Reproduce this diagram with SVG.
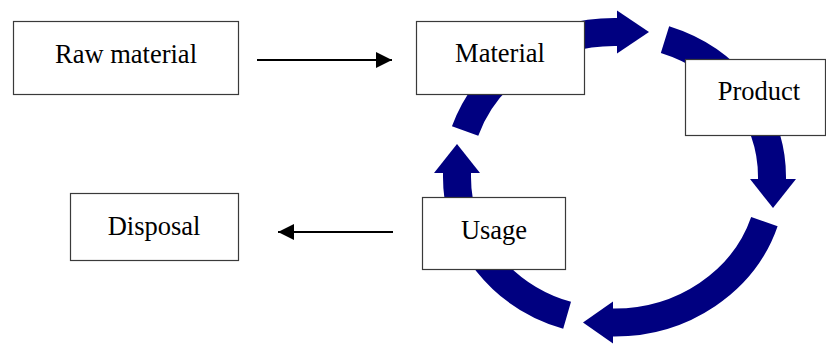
<svg xmlns="http://www.w3.org/2000/svg" width="826" height="345" viewBox="0 0 826 345">
  <style>
    .box { fill: #ffffff; stroke: #3a3a3a; stroke-width: 1.2; }
    .lbl { font-family: "Liberation Serif", "Times New Roman", serif; font-size: 26.5px; fill: #000000; text-anchor: middle; }
    .ring { fill: none; stroke: #000080; stroke-width: 28; stroke-linecap: butt; }
    .ringhead { fill: #000080; stroke: none; }
    .conn { stroke: #000000; stroke-width: 2.2; fill: none; }
  </style>
  <defs>
    <marker id="ah" viewBox="0 0 16 16" refX="16" refY="8" markerWidth="16" markerHeight="16" markerUnits="userSpaceOnUse" orient="auto">
      <path d="M0,0 L16,8 L0,16 Z" fill="#000000"/>
    </marker>
  </defs>

  <g id="cycle">
    <path class="ring" d="M465.1,131 A157.5,145 0 0,1 614.5,32 L618,32"/>
    <polygon class="ringhead" points="617,10.5 649,32 617,53.5"/>
    <path class="ring" d="M665,39.7 A157.5,145 0 0,1 772,177 L772,179"/>
    <polygon class="ringhead" points="750,179 796,179 773,208"/>
    <path class="ring" d="M764.4,221.6 A157.5,145 0 0,1 614.5,322.5 L612,322.5"/>
    <polygon class="ringhead" points="613,301.5 613,343.5 583,322.5"/>
    <path class="ring" d="M567.1,315.3 A157.5,145 0 0,1 457,177 L457,173"/>
    <polygon class="ringhead" points="434,173 480,173 457,144"/>
  </g>

  <g id="connectors">
    <line class="conn" x1="257" y1="60" x2="392" y2="60" marker-end="url(#ah)"/>
    <line class="conn" x1="393" y1="232" x2="278" y2="232" marker-end="url(#ah)"/>
  </g>

  <g id="raw-material">
    <rect class="box" x="13.5" y="21.5" width="225" height="73"/>
    <text class="lbl" x="126" y="63">Raw material</text>
  </g>
  <g id="material">
    <rect class="box" x="416.5" y="21.5" width="168" height="73"/>
    <text class="lbl" x="500" y="62">Material</text>
  </g>
  <g id="product">
    <rect class="box" x="685.5" y="59.5" width="140" height="76"/>
    <text class="lbl" x="759" y="100">Product</text>
  </g>
  <g id="usage">
    <rect class="box" x="422.5" y="197.5" width="143" height="72"/>
    <text class="lbl" x="494" y="239">Usage</text>
  </g>
  <g id="disposal">
    <rect class="box" x="70.5" y="193.5" width="168" height="67"/>
    <text class="lbl" x="154" y="235">Disposal</text>
  </g>
</svg>
